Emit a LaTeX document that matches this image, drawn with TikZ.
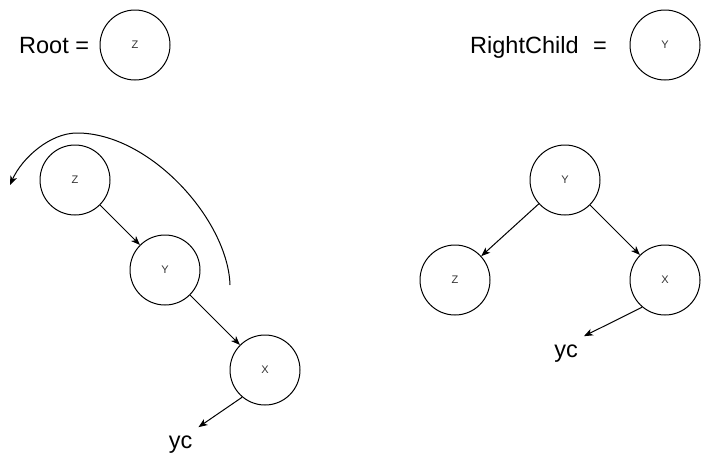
\documentclass[tikz,border=0pt]{standalone}
\usepackage{fontspec}
\setmainfont{Liberation Sans}
\usetikzlibrary{arrows.meta}
\begin{document}
\begin{tikzpicture}[x=1pt,y=-1pt,
  treenode/.style={circle,draw,line width=1pt,minimum size=70pt,inner sep=0pt,
    font=\fontsize{11}{13}\selectfont,text=black!80},
  biglabel/.style={font=\fontsize{23.5}{28}\selectfont,inner sep=0pt},
  ycnode/.style={font=\fontsize{23.5}{28}\selectfont,inner xsep=6pt,inner ysep=8pt},
  link/.style={line width=1pt,-{Stealth[length=9pt,width=7pt,inset=2.5pt]}}]
\useasboundingbox (0,0) rectangle (711,466);
% header
\node[biglabel,anchor=base west] (rootlbl) at (19,53) {Root =};
\node[treenode] (rootz) at (135,45) {Z};
\node[biglabel,anchor=base west] (rclbl) at (470,53) {RightChild\hspace{8pt} =};
\node[treenode] (rcy) at (665,45) {Y};
% left tree
\node[treenode] (lz) at (75,180) {Z};
\node[treenode] (ly) at (165,270) {Y};
\node[treenode] (lx) at (265,370) {X};
\node[ycnode,anchor=base] (lyc) at (180.5,448) {yc};
\draw[link] (lz) -- (ly);
\draw[link] (ly) -- (lx);
\draw[link] (lx.230) -- (lyc.north east);
\coordinate (arcstart) at (230,285);
\coordinate (arcend) at (10,185);
\draw[link] (arcstart) .. controls (228,220) and (150,133) .. (77,133)
  .. controls (50,133) and (22,158) .. (arcend);
% right tree
\node[treenode] (ry) at (565,180) {Y};
\node[treenode] (rz) at (455,280) {Z};
\node[treenode] (rx) at (665,280) {X};
\node[ycnode,anchor=base] (ryc) at (566,357) {yc};
\draw[link] (ry) -- (rz);
\draw[link] (ry) -- (rx);
\draw[link] (rx.230) -- (ryc.north east);
\end{tikzpicture}
\end{document}
